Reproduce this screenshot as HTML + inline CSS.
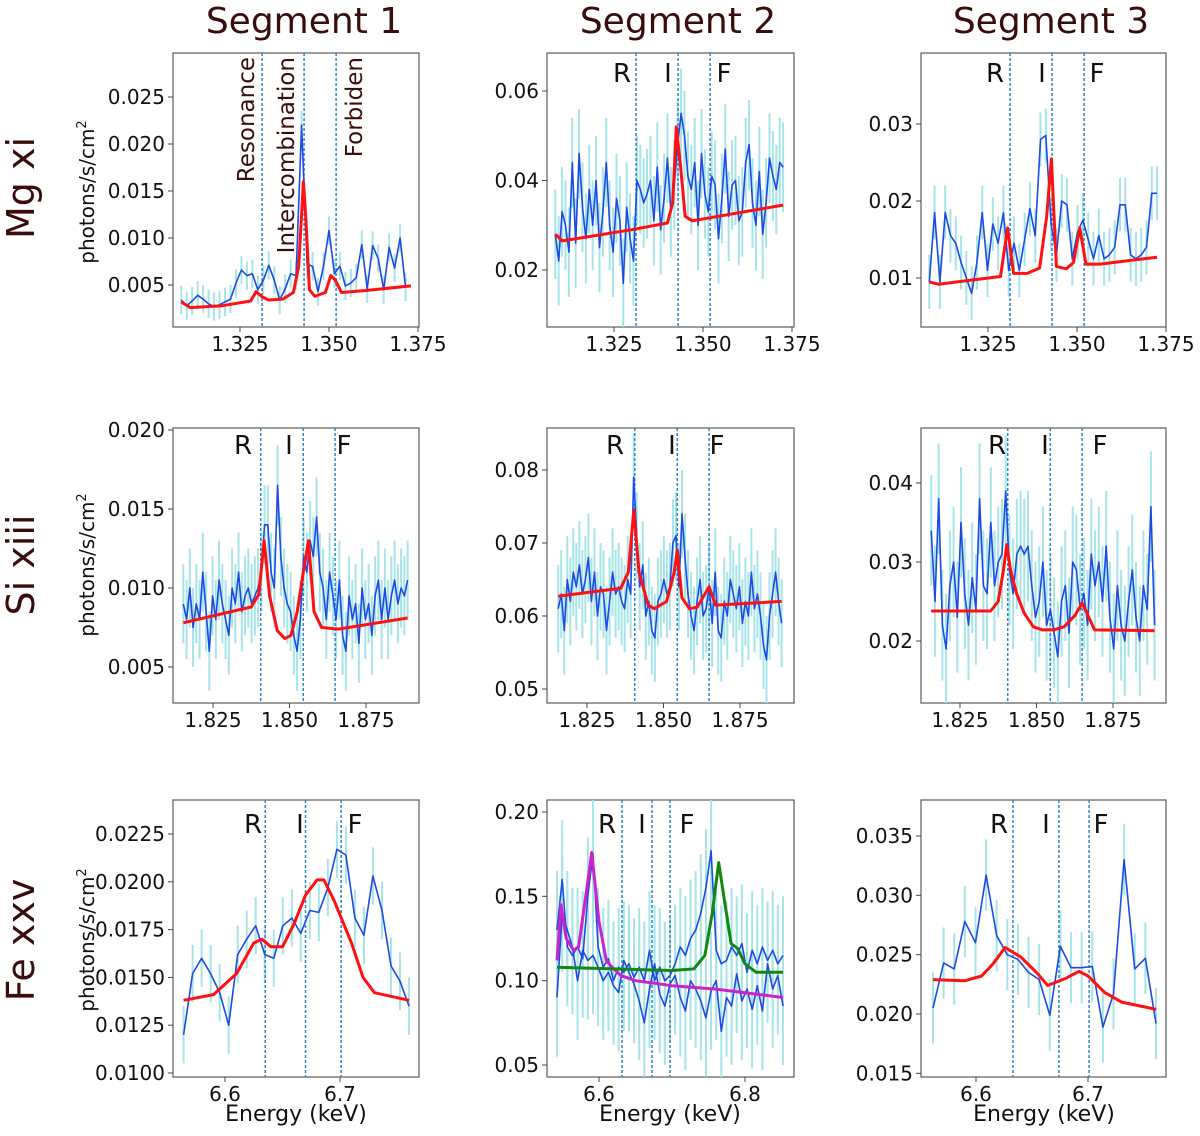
<!DOCTYPE html>
<html><head><meta charset="utf-8"><style>
html,body{margin:0;padding:0;background:#fff;}
svg{display:block;font-family:"DejaVu Sans","Liberation Sans",sans-serif;}
</style></head><body>
<svg id="fig" width="1200" height="1136" viewBox="0 0 1200 1136" xmlns="http://www.w3.org/2000/svg">
<rect x="0" y="0" width="1200" height="1136" fill="#fff"/>
<g fill="#3a0d0d" font-size="36" text-anchor="middle">
<text x="304" y="33">Segment 1</text>
<text x="678" y="33">Segment 2</text>
<text x="1051" y="33">Segment 3</text>
</g>
<g fill="#3a0d0d" font-size="38" text-anchor="middle">
<text transform="translate(34,188) rotate(-90)">Mg xi</text>
<text transform="translate(34,565) rotate(-90)">Si xiii</text>
<text transform="translate(34,940) rotate(-90)">Fe xxv</text>
</g>
<g fill="#111" font-size="20" text-anchor="middle">
<text transform="translate(94,192) rotate(-90)">photons/s/cm<tspan font-size="13" dy="-8">2</tspan></text>
<text transform="translate(94,565) rotate(-90)">photons/s/cm<tspan font-size="13" dy="-8">2</tspan></text>
<text transform="translate(94,940) rotate(-90)">photons/s/cm<tspan font-size="13" dy="-8">2</tspan></text>
</g>
<g fill="#111" font-size="22" text-anchor="middle">
<text x="296" y="1121">Energy (keV)</text>
<text x="670" y="1121">Energy (keV)</text>
<text x="1044" y="1121">Energy (keV)</text>
</g>
</svg>
<script>
// ---------- data ----------
const lineLabels = ["R", "I", "F"];
const mgLines = [1.3312, 1.3430, 1.3520];
const siLines = [1.8406, 1.8545, 1.8649];
const feLinesA = [6.635, 6.670, 6.701];
const feLinesB = [6.6315, 6.6726, 6.6973];
const feLinesC = [6.633, 6.674, 6.701];

const mgTicksX = [1.325, 1.350, 1.375];
const siTicksX = [1.825, 1.850, 1.875];
const feTicksA = [6.6, 6.7];
const feTicksB = [6.6, 6.8];
const ticksY11 = [0.005, 0.010, 0.015, 0.020, 0.025];
const ticksY12 = [0.02, 0.04, 0.06];
const ticksY13 = [0.01, 0.02, 0.03];
const ticksY21 = [0.005, 0.010, 0.015, 0.020];
const ticksY22 = [0.05, 0.06, 0.07, 0.08];
const ticksY23 = [0.02, 0.03, 0.04];
const ticksY31 = [0.0100, 0.0125, 0.0150, 0.0175, 0.0200, 0.0225];
const ticksY32 = [0.05, 0.10, 0.15, 0.20];
const ticksY33 = [0.015, 0.020, 0.025, 0.030, 0.035];

const obs11Range = [1.3085, 1.3715];
const obs11 = [3.4,2.8,3.3,3.9,3.5,3.0,2.7,2.9,3.2,3.5,5.2,6.6,6.0,6.2,4.5,5.5,7.1,5.5,3.4,4.6,6.2,6.0,22.0,7.2,7.0,4.3,7.0,10.8,6.2,7.0,4.9,5.2,5.8,9.3,4.6,9.2,7.8,4.5,9.0,6.8,10.0,4.8].map(v=>v/1000);
const model11 = [[1.3085,3.2],[1.311,2.6],[1.320,2.8],[1.328,3.3],[1.3295,4.3],[1.331,3.8],[1.333,3.4],[1.337,3.5],[1.340,4.2],[1.3415,7],[1.3428,16],[1.3435,12],[1.3445,4.5],[1.346,3.8],[1.349,4.2],[1.3505,6.0],[1.3518,5.5],[1.3535,4.2],[1.360,4.4],[1.373,4.9]].map(p=>[p[0],p[1]/1000]);
const err11 = 0.0015;

const obs12Range = [1.3085, 1.3725];
const obs12 = [28,22,33,30,24,44,26,46,34,27,38,30,40,25,33,44,30,24,36,31,17,34,27,22,40,38,35,37,40,31,43,29,36,45,33,39,48,55,50,41,38,44,30,46,37,33,41,39,27,36,47,32,39,40,31,33,44,48,35,30,42,28,35,45,41,38,44,43].map(v=>v/1000);
const model12 = [[1.3085,0.028],[1.3105,0.0265],[1.330,0.029],[1.340,0.0305],[1.3415,0.035],[1.3425,0.052],[1.3436,0.044],[1.345,0.032],[1.347,0.031],[1.3725,0.0345]];
const err12 = 0.010;

const obs13Range = [1.3085, 1.3725];
const obs13 = [9.5,18.5,9.5,18.5,15.5,14.5,12,10,8,12,18.5,11,17,14.5,18.5,11,14.5,11,15,19,15.5,28,28.5,17,13,20,19.5,12.5,16,17.5,15,12.5,15.5,12.5,13,14,19.5,19.5,13,12.5,13,14,21,21].map(v=>v/1000);
const model13 = [[1.3085,9.5],[1.311,9.2],[1.3285,10.2],[1.3305,16.5],[1.3322,10.6],[1.336,10.6],[1.3395,11.3],[1.3415,18],[1.3428,25.5],[1.3442,11.5],[1.347,11.2],[1.349,12],[1.3508,16.5],[1.3525,11.8],[1.3565,11.8],[1.3725,12.7]].map(p=>[p[0],p[1]/1000]);
const err13 = 0.0035;

const obs21Range = [1.8153, 1.8886];
const obs21 = [9,8,10,7.5,9,8,11,8.5,6,9.5,8,10.5,9,8,7,10,9,11,8.5,9.5,10,9,9.5,10,11,14,14,11,10,16.5,12,10,9,8.5,7,6,8,12,11,13,12,14.5,11,10,8,11,9.5,8,10.5,7,6,9.5,8,9,6.5,10,8,9,7,9.5,10.5,8,10,8,9.5,10.5,9,10,9.5,10.5].map(v=>v/1000);
const model21 = [[1.8153,7.8],[1.8375,8.8],[1.8400,9.6],[1.8417,13],[1.8435,9.5],[1.846,7.3],[1.8485,6.8],[1.8505,7.0],[1.8525,8.5],[1.8545,11],[1.8562,13],[1.858,8.5],[1.8605,7.5],[1.866,7.4],[1.8886,8.1]].map(p=>[p[0],p[1]/1000]);
const err21 = 0.0025;

const obs22Range = [1.8156, 1.8886];
const obs22 = [61,63,58,65,62,66,64,67,63,65,68,62,66,60,64,63,58,62,66,63,64,62,61,65,63,79,71,64,67,60,62,58,57,62,63,65,63,64,70,71,64,74,68,63,60,58,62,65,60,61,64,59,66,58,57,62,60,65,63,61,64,59,62,60,66,61,63,60,56,54,60,63,66,62,59].map(v=>v/1000);
const model22 = [[1.8156,0.0627],[1.836,0.0638],[1.8385,0.066],[1.8403,0.0745],[1.842,0.066],[1.845,0.0615],[1.847,0.061],[1.851,0.062],[1.8535,0.066],[1.8545,0.069],[1.856,0.0625],[1.8585,0.061],[1.861,0.0612],[1.8635,0.063],[1.8649,0.064],[1.867,0.0615],[1.8886,0.062]];
const err22 = 0.006;

const obs23Range = [1.8156, 1.8886];
const obs23 = [34,25,38,22,19,27,30,23,35,26,22,28,24,38,27,26,35,27,30,31,39,29,26,31,32,31,32,27,23,25,30,22,24,21,18,25,27,21,30,29,24,26,22,31,27,30,25,32,23,19,27,22,20,25,29,23,20,27,24,37,22].map(v=>v/1000);
const model23 = [[1.8156,0.0238],[1.835,0.0238],[1.8375,0.025],[1.8392,0.029],[1.8403,0.0322],[1.8415,0.029],[1.8435,0.026],[1.846,0.0235],[1.849,0.0218],[1.852,0.0214],[1.8555,0.0214],[1.859,0.0218],[1.8625,0.0232],[1.8649,0.0248],[1.8665,0.0235],[1.869,0.0214],[1.8886,0.0213]];
const err23 = 0.007;

const obs31Range = [6.564, 6.760];
const obs31 = [0.0120,0.0152,0.0160,0.0152,0.0142,0.0125,0.0162,0.0170,0.0177,0.0162,0.0160,0.0177,0.0181,0.0173,0.0185,0.0184,0.0197,0.0217,0.0214,0.0181,0.0172,0.0203,0.0185,0.0156,0.0148,0.0135];
const model31 = [[6.564,0.0138],[6.59,0.0141],[6.61,0.0152],[6.625,0.0168],[6.632,0.0170],[6.64,0.0166],[6.65,0.0166],[6.66,0.0178],[6.67,0.0193],[6.68,0.0201],[6.686,0.0201],[6.695,0.0190],[6.71,0.0168],[6.72,0.0150],[6.73,0.0142],[6.76,0.0138]];
const err31 = 0.0015;

const obs32Range = [6.5425, 6.852];
const obs32a = [0.13,0.16,0.12,0.115,0.12,0.113,0.150,0.175,0.12,0.108,0.113,0.100,0.108,0.105,0.110,0.102,0.108,0.100,0.118,0.100,0.108,0.100,0.103,0.110,0.120,0.115,0.125,0.130,0.140,0.155,0.177,0.118,0.110,0.112,0.120,0.115,0.122,0.105,0.118,0.110,0.120,0.112,0.118,0.110,0.115];
const obs32b = [0.09,0.14,0.13,0.12,0.10,0.118,0.112,0.115,0.108,0.100,0.105,0.097,0.093,0.112,0.105,0.098,0.088,0.075,0.095,0.110,0.092,0.085,0.098,0.103,0.090,0.082,0.100,0.095,0.088,0.078,0.094,0.100,0.070,0.090,0.085,0.104,0.088,0.095,0.083,0.097,0.082,0.110,0.095,0.103,0.085];
const model32m = [[6.5425,0.112],[6.548,0.145],[6.555,0.125],[6.565,0.118],[6.572,0.120],[6.585,0.160],[6.590,0.176],[6.600,0.135],[6.610,0.112],[6.618,0.108],[6.63,0.103],[6.65,0.100],[6.70,0.097],[6.76,0.095],[6.852,0.090]];
const model32g = [[6.5425,0.108],[6.70,0.106],[6.730,0.107],[6.745,0.115],[6.755,0.140],[6.764,0.170],[6.771,0.150],[6.781,0.122],[6.790,0.119],[6.800,0.110],[6.815,0.105],[6.852,0.105]];
const err32 = 0.035;

const obs33Range = [6.5616, 6.7607];
const obs33 = [0.0205,0.0243,0.0238,0.0278,0.0260,0.0317,0.0266,0.0250,0.0246,0.0235,0.0229,0.0199,0.0257,0.0239,0.0239,0.0240,0.0189,0.0217,0.0330,0.0238,0.0247,0.0192];
const model33 = [[6.5616,0.0229],[6.59,0.0228],[6.605,0.0232],[6.615,0.0242],[6.626,0.0256],[6.64,0.0248],[6.655,0.0234],[6.664,0.0224],[6.68,0.0230],[6.692,0.0236],[6.70,0.0232],[6.715,0.0218],[6.73,0.0210],[6.7607,0.0204]];
const err33 = 0.003;

// ---------- layout ----------
const NS = "http://www.w3.org/2000/svg";
const fig = document.getElementById('fig');
function mk(tag, attrs, parent){ const e=document.createElementNS(NS,tag); for(const k in attrs) e.setAttribute(k,attrs[k]); (parent||fig).appendChild(e); return e; }
function lin(v0,p0,v1,p1){ return v=>p0+(v-v0)*(p1-p0)/(v1-v0); }

const panels = [
 {id:'mg-seg1', box:[173,53,419,327], sx:lin(1.325,240,1.375,418), sy:lin(0.005,285,0.025,97), xt:mgTicksX, yt:ticksY11, dec:3, xd:3, lines:mgLines, obs:[[obs11Range,obs11]], err:err11, models:[[model11,'#ff1111']], long:true},
 {id:'mg-seg2', box:[547,53,794,327], sx:lin(1.325,614,1.375,792), sy:lin(0.02,270,0.06,91), xt:mgTicksX, yt:ticksY12, dec:2, xd:3, lines:mgLines, obs:[[obs12Range,obs12]], err:err12, models:[[model12,'#ff1111']], lab:[622,668,724], ly:80},
 {id:'mg-seg3', box:[921,53,1166,327], sx:lin(1.325,988,1.375,1166), sy:lin(0.01,278,0.03,124), xt:mgTicksX, yt:ticksY13, dec:2, xd:3, lines:mgLines, obs:[[obs13Range,obs13]], err:err13, models:[[model13,'#ff1111']], lab:[995,1042,1097], ly:80},
 {id:'si-seg1', box:[173,428,419,703], sx:lin(1.825,213,1.875,366), sy:lin(0.005,667,0.020,430), xt:siTicksX, yt:ticksY21, dec:3, xd:3, lines:siLines, obs:[[obs21Range,obs21]], err:err21, models:[[model21,'#ff1111']], lab:[243,289,344], ly:452},
 {id:'si-seg2', box:[547,428,794,703], sx:lin(1.825,587,1.875,740), sy:lin(0.05,689,0.08,470), xt:siTicksX, yt:ticksY22, dec:2, xd:3, lines:siLines, obs:[[obs22Range,obs22]], err:err22, models:[[model22,'#ff1111']], lab:[615,672,717], ly:452},
 {id:'si-seg3', box:[921,428,1166,703], sx:lin(1.825,960,1.875,1113), sy:lin(0.02,641,0.04,483), xt:siTicksX, yt:ticksY23, dec:2, xd:3, lines:siLines, obs:[[obs23Range,obs23]], err:err23, models:[[model23,'#ff1111']], lab:[997,1045,1100], ly:452},
 {id:'fe-seg1', box:[173,800,419,1077], sx:lin(6.6,225,6.7,340), sy:lin(0.0100,1073,0.0225,834), xt:feTicksA, yt:ticksY31, dec:4, xd:1, lines:feLinesA, obs:[[obs31Range,obs31]], err:err31, models:[[model31,'#ff1111']], lab:[253,300,355], ly:831},
 {id:'fe-seg2', box:[547,800,794,1077], sx:lin(6.6,599,6.8,745), sy:lin(0.05,1065,0.20,812), xt:feTicksB, yt:ticksY32, dec:2, xd:1, lines:feLinesB, obs:[[obs32Range,obs32a],[obs32Range,obs32b]], err:err32, models:[[model32m,'#cc22cc'],[model32g,'#118811']], lab:[607,642,687], ly:831},
 {id:'fe-seg3', box:[921,800,1166,1077], sx:lin(6.6,976,6.7,1088), sy:lin(0.020,1014,0.035,836), xt:feTicksA, yt:ticksY33, dec:3, xd:1, lines:feLinesC, obs:[[obs33Range,obs33]], err:err33, models:[[model33,'#ff1111']], lab:[999,1046,1101], ly:831}
];

panels.forEach(P=>{
  const [x0,y0,x1,y1]=P.box;
  const g = mk('g',{});
  
  
  const cp = mk('clipPath',{id:'clip-'+P.id},g);
  mk('rect',{x:x0,y:y0,width:x1-x0,height:y1-y0},cp);
  const frame = mk('rect',{x:x0,y:y0,width:x1-x0,height:y1-y0,fill:'#fff',stroke:'#666','stroke-width':1.3},g);
  
  
  const inner = mk('g',{'clip-path':'url(#clip-'+P.id+')'},g);
  P.obs.forEach(o=>{
    const [rng,vals]=o; const n=vals.length;
    vals.forEach((v,i)=>{
      const e = rng[0]+(rng[1]-rng[0])*i/(n-1);
      const eb = mk('line',{x1:P.sx(e),x2:P.sx(e),y1:P.sy(v-P.err),y2:P.sy(v+P.err),stroke:'#a6e4e8','stroke-width':2},inner);
      
      
    });
  });
  P.lines.forEach((e,i)=>{
    const vl = mk('line',{x1:P.sx(e),x2:P.sx(e),y1:y0,y2:y1,stroke:'#2e86c8','stroke-width':1.5,'stroke-dasharray':'3,2'},inner);
    
    
  });
  P.obs.forEach(o=>{
    const [rng,vals]=o; const n=vals.length;
    const pts = vals.map((v,i)=>{const e=rng[0]+(rng[1]-rng[0])*i/(n-1); return P.sx(e).toFixed(1)+','+P.sy(v).toFixed(1);}).join(' ');
    const pl = mk('polyline',{points:pts,fill:'none',stroke:'#1a4be6','stroke-width':1.6,'stroke-linejoin':'round'},inner);
    
    
  });
  P.models.forEach(m=>{
    const pts = m[0].map(p=>P.sx(p[0]).toFixed(1)+','+P.sy(p[1]).toFixed(1)).join(' ');
    const ml = mk('polyline',{points:pts,fill:'none',stroke:m[1],'stroke-width':3,'stroke-linejoin':'round'},inner);
    
    
  });
  P.xt.forEach(t=>{
    const x=P.sx(t);
    const tk = mk('line',{x1:x,x2:x,y1:y1,y2:y1+5,stroke:'#444','stroke-width':1},g);
    
    
    const tl = mk('text',{x:x,y:y1+24,'font-size':20,'text-anchor':'middle',fill:'#111'},g);
    
    
    tl.textContent = t.toFixed(P.xd);
  });
  P.yt.forEach(t=>{
    const y=P.sy(t);
    const tk = mk('line',{x1:x0-5,x2:x0,y1:y,y2:y,stroke:'#444','stroke-width':1},g);
    
    
    const tl = mk('text',{x:x0-8,y:y+7,'font-size':20,'text-anchor':'end',fill:'#111'},g);
    
    
    tl.textContent = t.toFixed(P.dec);
  });
  if(P.long){
    const names=['Resonance','Intercombination','Forbiden'];
    const xs=[254,294,362];
    names.forEach((nm,i)=>{
      const t = mk('text',{transform:'translate('+xs[i]+',57) rotate(-90)','font-size':23,'text-anchor':'end',fill:'#3a0d0d'},g);
      
      
      t.textContent = nm;
    });
  } else {
    lineLabels.forEach((nm,i)=>{
      const t = mk('text',{x:P.lab[i],y:P.ly+2,'font-size':26,'text-anchor':'middle',fill:'#111'},g);
      
      
      t.textContent = nm;
    });
  }
});
</script>
</body></html>
